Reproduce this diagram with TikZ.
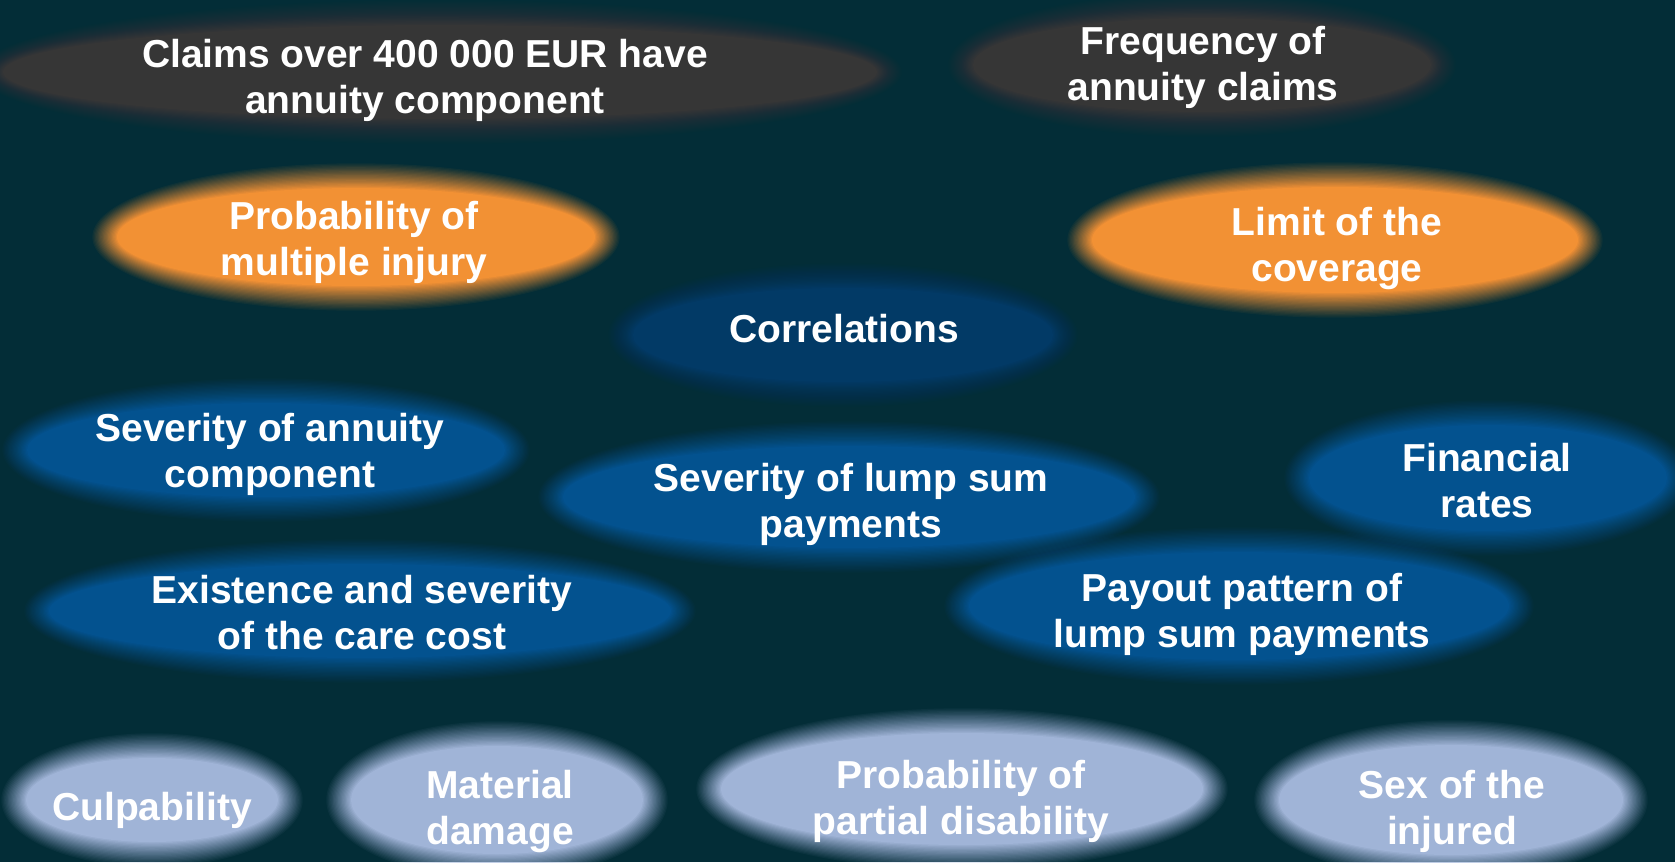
\documentclass[tikz,border=0pt]{standalone}
\usepackage{fontspec}
\setmainfont{Liberation Sans}
\definecolor{bgteal}{RGB}{3,45,55}
\definecolor{blobgray}{RGB}{54,54,54}
\definecolor{bloborange}{RGB}{242,145,52}
\definecolor{blobblue}{RGB}{3,82,143}
\definecolor{blobdark}{RGB}{2,58,102}
\definecolor{bloblight}{RGB}{160,180,215}
\newcommand\softblob[5]{% x, y, rx, ry, color
  \foreach \k [evaluate=\k as \op using {1/(21-\k)},
               evaluate=\k as \dr using {13-1.3*\k}] in {1,...,20}{%
    \fill[#5, fill opacity=\op] (#1,#2) ellipse [x radius={#3+\dr}, y radius={#4+\dr}];
  }
}
\tikzset{lbl/.style={text=white, align=center, inner sep=0pt,
  font=\fontsize{39}{46}\selectfont\bfseries}}
\begin{document}
\begin{tikzpicture}[x=1pt,y=-1pt]
\useasboundingbox (0,0) rectangle (1675,862);
\fill[bgteal] (0,0) rectangle (1675,862);
% blobs
\softblob{440}{72}{450}{60}{blobgray}
\softblob{1202}{65}{242}{60}{blobgray}
\softblob{356}{237}{252}{62}{bloborange}
\softblob{1335}{240}{256}{66}{bloborange}
\softblob{843}{335}{223}{60}{blobdark}
\softblob{266}{450}{252}{60}{blobblue}
\softblob{849}{497}{299}{64}{blobblue}
\softblob{1488}{478}{192}{66}{blobblue}
\softblob{360}{611}{324}{60}{blobblue}
\softblob{1239}{606}{283}{67}{blobblue}
\softblob{152}{800}{139}{55}{bloblight}
\softblob{497}{800}{159}{67}{bloblight}
\softblob{962}{789}{254}{69}{bloblight}
\softblob{1451}{800}{185}{68}{bloblight}
% labels
\node[lbl] (claims) at (425,80) {Claims over 400 000 EUR have\\annuity component};
\node[lbl] (freq) at (1203,67) {Frequency of\\annuity claims};
\node[lbl] (multi) at (354,242) {Probability of\\multiple injury};
\node[lbl] (limit) at (1337,248) {Limit of the\\coverage};
\node[lbl] (corr) at (844,329) {Correlations};
\node[lbl] (sevann) at (270,454) {Severity of annuity\\component};
\node[lbl] (sevlump) at (851,504) {Severity of lump sum\\payments};
\node[lbl] (fin) at (1487,481) {Financial\\rates};
\node[lbl] (care) at (362,613) {Existence and severity\\of the care cost};
\node[lbl] (payout) at (1242,614) {Payout pattern of\\lump sum payments};
\node[lbl] (culp) at (152,810) {Culpability};
\node[lbl] (mat) at (500,811) {Material\\damage};
\node[lbl] (partial) at (961,801) {Probability of\\partial disability};
\node[lbl] (sex) at (1452,811) {Sex of the\\injured};
\end{tikzpicture}
\end{document}
